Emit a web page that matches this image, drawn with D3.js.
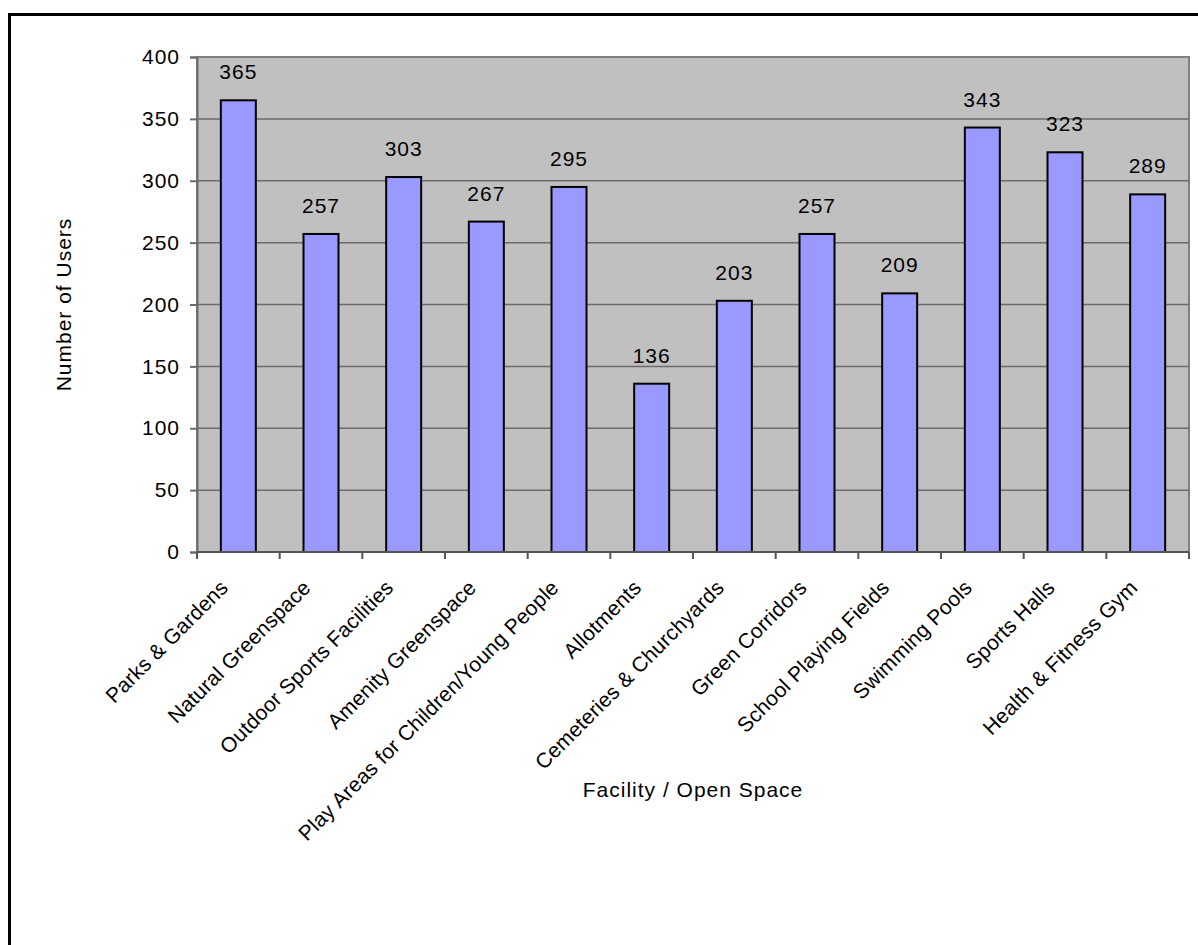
<!DOCTYPE html>
<html lang="en">
<head>
  <meta charset="UTF-8">
  <title>Number of Users by Facility</title>
  <script src="https://d3js.org/d3.v7.min.js" charset="utf-8"></script>
  <style>
    body { margin: 0; background: #fff; }
    text { font-family: "Liberation Sans", Arial, sans-serif; fill: #000; }
  </style>
</head>
<body>
<div class="div1"></div>
<script>
  var categories = ['Parks & Gardens', 'Natural Greenspace', 'Outdoor Sports Facilities', 'Amenity Greenspace',
    'Play Areas for Children/Young People', 'Allotments', 'Cemeteries & Churchyards', 'Green Corridors',
    'School Playing Fields', 'Swimming Pools', 'Sports Halls', 'Health & Fitness Gym']
  var users = [365, 257, 303, 267, 295, 136, 203, 257, 209, 343, 323, 289]
  var yTicks = [0, 50, 100, 150, 200, 250, 300, 350, 400]

  var width = 1198
  var height = 945
  // plot area bounds
  var pLeft = 197, pRight = 1189, pTop = 57, pBottom = 552
  var fs = 21

  var svg = d3.select('.div1')
    .append('svg')
    .attr('width', width)
    .attr('height', height)

  // outer frame (runs off the picture on the right and bottom)
  svg.append('rect')
    .attr('x', 9.5).attr('y', 14.5)
    .attr('width', 1220).attr('height', 960)
    .attr('fill', 'none')
    .attr('stroke', '#000')
    .attr('stroke-width', 3)

  var x = d3.scaleBand()
    .domain(categories)
    .range([pLeft, pRight])
    .paddingInner(0)

  var y = d3.scaleLinear()
    .domain([0, 400])
    .range([pBottom, pTop])

  // plot area
  svg.append('rect')
    .attr('x', pLeft).attr('y', pTop)
    .attr('width', pRight - pLeft).attr('height', pBottom - pTop)
    .attr('fill', '#c0c0c0')
    .attr('stroke', '#808080')
    .attr('stroke-width', 2)

  // gridlines
  svg.selectAll('.grid')
    .data(yTicks.filter(d => d > 0 && d < 400))
    .enter()
    .append('line')
    .attr('class', 'grid')
    .attr('x1', pLeft).attr('x2', pRight)
    .attr('y1', d => y(d)).attr('y2', d => y(d))
    .attr('stroke', '#6b6b6b')
    .attr('stroke-width', 1.5)

  // bars
  var barW = 35
  svg.selectAll('.bar')
    .data(users)
    .enter()
    .append('rect')
    .attr('class', 'bar')
    .attr('x', (d, i) => x(categories[i]) + x.bandwidth() / 2 - barW / 2)
    .attr('y', d => y(d))
    .attr('width', barW)
    .attr('height', d => y(0) - y(d))
    .attr('fill', '#9999ff')
    .attr('stroke', '#000')
    .attr('stroke-width', 2)

  // value labels
  svg.selectAll('.val')
    .data(users)
    .enter()
    .append('text')
    .attr('class', 'val')
    .attr('x', (d, i) => x(categories[i]) + x.bandwidth() / 2)
    .attr('y', d => y(d) - 21)
    .attr('text-anchor', 'middle')
    .attr('font-size', fs)
    .attr('letter-spacing', 1)
    .text(d => d)

  // y axis
  var yAxis = d3.axisLeft(y).tickValues(yTicks).tickSize(7).tickPadding(10)
  var gy = svg.append('g')
    .attr('transform', 'translate(' + pLeft + ',0)')
    .call(yAxis)
  gy.select('.domain').attr('stroke', '#6b6b6b').attr('stroke-width', 2)
  gy.selectAll('.tick line').attr('stroke', '#6b6b6b').attr('stroke-width', 2)
  gy.selectAll('.tick text')
    .attr('font-size', fs)
    .attr('letter-spacing', 1)
    .attr('font-family', '"Liberation Sans", Arial, sans-serif')
    .attr('fill', '#000')

  // x axis: ticks on band edges
  svg.append('line')
    .attr('x1', pLeft).attr('x2', pRight)
    .attr('y1', pBottom).attr('y2', pBottom)
    .attr('stroke', '#555').attr('stroke-width', 2)

  var edges = categories.map(c => x(c)).concat([pRight])
  svg.selectAll('.xtick')
    .data(edges)
    .enter()
    .append('line')
    .attr('class', 'xtick')
    .attr('x1', d => d).attr('x2', d => d)
    .attr('y1', pBottom).attr('y2', pBottom + 7)
    .attr('stroke', '#555').attr('stroke-width', 2)

  svg.selectAll('.xlab')
    .data(categories)
    .enter()
    .append('text')
    .attr('class', 'xlab')
    .attr('text-anchor', 'end')
    .attr('font-size', fs)
    .attr('letter-spacing', 0.2)
    .attr('transform', d => 'translate(' + (x(d) + x.bandwidth() / 2 - 9) + ',' + (pBottom + 37) + ') rotate(-45)')
    .text(d => d)

  // axis titles
  svg.append('text')
    .attr('x', (pLeft + pRight) / 2)
    .attr('y', 797)
    .attr('text-anchor', 'middle')
    .attr('font-size', fs)
    .attr('letter-spacing', 1)
    .text('Facility / Open Space')

  svg.append('text')
    .attr('transform', 'translate(71,' + ((pTop + pBottom) / 2) + ') rotate(-90)')
    .attr('text-anchor', 'middle')
    .attr('font-size', fs)
    .attr('letter-spacing', 1)
    .text('Number of Users')
</script>
</body>
</html>
